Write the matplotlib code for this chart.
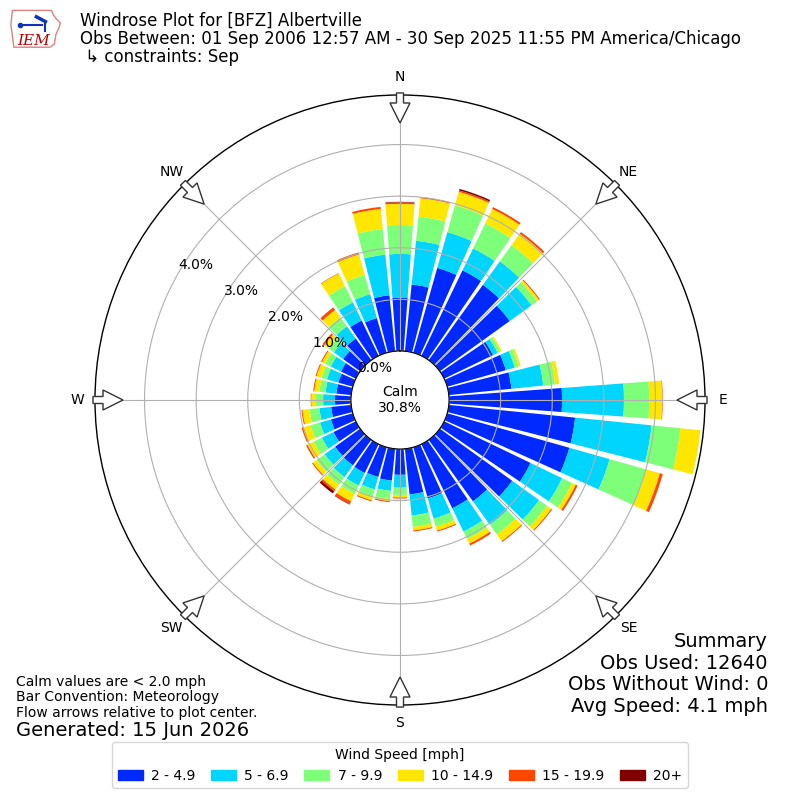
import numpy as np
import matplotlib
matplotlib.use("Agg")
import matplotlib.pyplot as plt
from matplotlib.patches import Circle, FancyArrow, Rectangle, Polygon

# ---------------- data ----------------
directions = np.arange(0, 360, 10)  # degrees, direction wind is from
speed_labels = ["2 - 4.9", "5 - 6.9", "7 - 9.9", "10 - 14.9", "15 - 19.9", "20+"]
compass_labels = ["N", "NE", "E", "SE", "S", "SW", "W", "NW"]
rtick_values = [0, 1, 2, 3, 4]
rtick_labels = ["0.0%", "1.0%", "2.0%", "3.0%", "4.0%"]

# percent of observations per direction for each speed bin
pct_2_5 = [1.03, 1.30, 1.71, 1.84, 1.80, 1.67, 1.05, 1.18, 1.22, 2.19, 2.46, 2.46,
           1.86, 1.73, 1.47, 1.38, 1.03, 0.89, 0.50, 0.62, 0.60, 0.62, 0.61, 0.60,
           0.48, 0.44, 0.39, 0.31, 0.29, 0.29, 0.32, 0.41, 0.52, 0.76, 0.70, 1.09]
pct_5_7 = [0.85, 0.85, 0.72, 0.47, 0.56, 0.52, 0.10, 0.18, 0.62, 1.20, 1.49, 0.81,
           0.68, 0.64, 0.56, 0.50, 0.41, 0.41, 0.25, 0.20, 0.25, 0.27, 0.28, 0.25,
           0.25, 0.22, 0.23, 0.23, 0.21, 0.23, 0.22, 0.22, 0.29, 0.39, 0.48, 0.79]
pct_7_10 = [0.56, 0.47, 0.54, 0.54, 0.39, 0.13, 0.06, 0.08, 0.23, 0.49, 0.56, 0.74,
            0.21, 0.19, 0.23, 0.16, 0.16, 0.22, 0.14, 0.16, 0.14, 0.18, 0.18, 0.19,
            0.18, 0.19, 0.19, 0.14, 0.12, 0.11, 0.12, 0.13, 0.21, 0.35, 0.39, 0.50]
pct_10_15 = [0.41, 0.36, 0.27, 0.31, 0.27, 0.05, 0.03, 0.04, 0.08, 0.25, 0.39, 0.27,
             0.08, 0.10, 0.16, 0.10, 0.08, 0.07, 0.05, 0.04, 0.08, 0.16, 0.12, 0.09,
             0.13, 0.14, 0.14, 0.09, 0.10, 0.10, 0.07, 0.10, 0.18, 0.27, 0.41, 0.39]
pct_15_20 = [0.03, 0.02, 0.03, 0.04, 0.04, 0.02, 0.00, 0.00, 0.00, 0.01, 0.00, 0.06,
             0.04, 0.02, 0.02, 0.04, 0.02, 0.02, 0.02, 0.02, 0.02, 0.06, 0.04, 0.02,
             0.03, 0.04, 0.02, 0.01, 0.02, 0.02, 0.02, 0.04, 0.06, 0.01, 0.04, 0.04]
pct_20p = [0.01, 0.00, 0.03, 0.00, 0.00, 0.00, 0.00, 0.00, 0.00, 0.00, 0.00, 0.00,
           0.00, 0.00, 0.00, 0.00, 0.00, 0.00, 0.00, 0.00, 0.00, 0.01, 0.05, 0.00,
           0.00, 0.00, 0.00, 0.00, 0.00, 0.00, 0.00, 0.00, 0.00, 0.00, 0.00, 0.00]

calm_pct = 30.8
obs_used = 12640
obs_without_wind = 0
avg_speed = 4.1

# ---------------- figure ----------------
fig = plt.figure(figsize=(8, 8), dpi=100)
ax = fig.add_axes([0.11875, 0.11875, 0.7625, 0.7625], projection="polar")
ax.set_theta_zero_location("N")
ax.set_theta_direction(-1)
ax.set_rorigin(-0.95)

colors = [plt.get_cmap("jet")(k / 6.0) for k in range(1, 7)]
bins = [pct_2_5, pct_5_7, pct_7_10, pct_10_15, pct_15_20, pct_20p]
theta = np.deg2rad(directions)
width = np.deg2rad(8.5)
bottom = np.zeros(len(directions))
handles = []
for vals, c, lab in zip(bins, colors, speed_labels):
    vals = np.asarray(vals, dtype=float)
    ax.bar(theta, vals, width=width, bottom=bottom, color=c, linewidth=0, zorder=1)
    bottom = bottom + vals
    handles.append(Rectangle((0, 0), 1, 1, color=c, label=lab))

ax.set_ylim(0, 4.96)
ax.set_yticks(rtick_values)
ax.set_yticklabels(rtick_labels, fontsize=10)
ax.set_rlabel_position(300)
ax.set_xticks(np.deg2rad(np.arange(0, 360, 45)))
ax.set_xticklabels(compass_labels, fontsize=10)
ax.tick_params(axis="x", pad=2.5)
ax.grid(True, color="#b0b0b0", linewidth=0.8)
ax.spines["polar"].set_linewidth(1.0)

# calm circle
calm = Circle((0.5, 0.5), 49.0 / 610.0, transform=ax.transAxes,
              facecolor="white", edgecolor="black", linewidth=1.0, zorder=1.2)
ax.add_artist(calm)
ax.text(0.5, 0.5, "Calm\n%.1f%%" % calm_pct, transform=ax.transAxes,
        ha="center", va="center", fontsize=10, zorder=5)

# flow arrows at compass points
for d in range(0, 360, 45):
    a = np.deg2rad(d)
    ux, uy = np.sin(a), np.cos(a)
    r0 = 0.5 + 2.0 / 610.0
    sx, sy = 0.5 + r0 * ux, 0.5 + r0 * uy
    L = 30.0 / 610.0
    arr = FancyArrow(sx, sy, -L * ux, -L * uy, width=7.0 / 610.0,
                     head_width=20.0 / 610.0, head_length=20.0 / 610.0,
                     length_includes_head=True, transform=ax.transAxes,
                     facecolor="white", edgecolor="#333333", linewidth=1.0,
                     clip_on=False, zorder=6)
    ax.add_patch(arr)

# titles
fig.text(0.1, 0.985,
         "Windrose Plot for [BFZ] Albertville\n"
         "Obs Between: 01 Sep 2006 12:57 AM - 30 Sep 2025 11:55 PM America/Chicago\n"
         " \u21b3 constraints: Sep",
         ha="left", va="top", fontsize=12, linespacing=1.0)

fig.text(0.02, 0.1,
         "Calm values are < 2.0 mph\nBar Convention: Meteorology\nFlow arrows relative to plot center.",
         ha="left", va="bottom", fontsize=10, linespacing=1.15)
fig.text(0.02, 0.0875, "Generated: 15 Jun 2026", ha="left", va="center", fontsize=14)

fig.text(0.96, 0.105,
         "Summary\nObs Used: %d\nObs Without Wind: %d\nAvg Speed: %.1f mph"
         % (obs_used, obs_without_wind, avg_speed),
         ha="right", va="bottom", fontsize=14, linespacing=1.17)

leg = fig.legend(handles=handles, loc="lower center", bbox_to_anchor=(0.5, 0.006),
                 ncol=6, title="Wind Speed [mph]", fontsize=10, title_fontsize=10,
                 handlelength=1.8, handletextpad=0.6, columnspacing=1.12, frameon=True)

# simple IEM logo
lax = fig.add_axes([0.008, 0.935, 0.075, 0.06])
lax.set_xlim(0, 80)
lax.set_ylim(0, 60)
lax.axis("off")
outline = [(8, 52), (60, 52), (63, 46), (66, 42), (72, 36), (70, 30), (66, 22),
           (64, 10), (58, 6), (10, 6), (8, 20), (6, 34), (8, 52)]
lax.add_patch(Polygon(outline, closed=True, fill=False, edgecolor="#e08080", linewidth=1.0))
lax.plot([18, 48], [34, 34], color="#1030c0", linewidth=1.5)
lax.plot([40, 52], [44, 38], color="#1030c0", linewidth=2.5)
lax.plot([52, 52], [38, 26], color="#1030c0", linewidth=1.5)
lax.plot([18], [34], marker="o", color="#1030c0", markersize=3)
lax.text(36, 14, "IEM", color="#c00000", fontsize=11, family="serif", style="italic",
         ha="center", va="center")

fig.savefig("out.png", dpi=100)
